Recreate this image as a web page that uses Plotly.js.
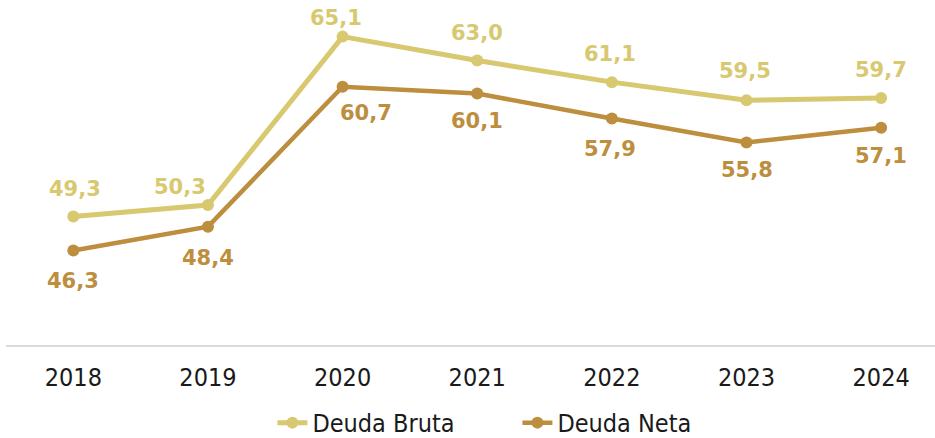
<!DOCTYPE html>
<html>
<head>
<meta charset="utf-8">
<script src="https://cdn.plot.ly/plotly-3.0.1.min.js"></script>
<style>html,body{margin:0;padding:0;background:#fff}#chart{width:935px;height:438px}</style>
</head>
<body>
<div id="chart"></div>
<script>
var years = ["2018","2019","2020","2021","2022","2023","2024"];
var deudaBruta = [49.3, 50.3, 65.1, 63.0, 61.1, 59.5, 59.7];
var deudaNeta = [46.3, 48.4, 60.7, 60.1, 57.9, 55.8, 57.1];
var seriesNames = ["Deuda Bruta", "Deuda Neta"];

// label placement offsets (px) — styling only
var brutaLabelDx = [2, -28, -7, 0, -2, -2, 0];
var brutaLabelDy = [27.5, 18, 18.5, 28, 28, 29, 28];
var netaLabelDx = [0, 0, 23, 0, -2, 0, 0];
var netaLabelDy = [-30, -31, -26, -27.5, -30, -28, -28];

function fmt(v){ return v.toFixed(1).replace('.', ','); }

var colBruta = '#D8C86F';
var colNeta = '#BC8E3E';
var lblFont = 'DejaVu Sans';

var traces = [
  {
    x: years, y: deudaBruta, name: seriesNames[0], type: 'scatter', mode: 'lines+markers',
    line: {color: colBruta, width: 5}, marker: {color: colBruta, size: 12},
    cliponaxis: false, hoverinfo: 'skip'
  },
  {
    x: years, y: deudaNeta, name: seriesNames[1], type: 'scatter', mode: 'lines+markers',
    line: {color: colNeta, width: 4.5}, marker: {color: colNeta, size: 12},
    cliponaxis: false, hoverinfo: 'skip'
  }
];

var annotations = [];
years.forEach(function(yr, i){
  annotations.push({x: i, y: deudaBruta[i], xref: 'x', yref: 'y', text: '<b>' + fmt(deudaBruta[i]) + '</b>',
    showarrow: false, xshift: brutaLabelDx[i], yshift: brutaLabelDy[i],
    xanchor: 'center', yanchor: 'middle',
    font: {family: lblFont, size: 21, color: colBruta}});
  annotations.push({x: i, y: deudaNeta[i], xref: 'x', yref: 'y', text: '<b>' + fmt(deudaNeta[i]) + '</b>',
    showarrow: false, xshift: netaLabelDx[i], yshift: netaLabelDy[i],
    xanchor: 'center', yanchor: 'middle',
    font: {family: lblFont, size: 21, color: colNeta}});
});

var layout = {
  width: 935, height: 438,
  margin: {l: 6, r: 0, t: 15, b: 93, autoexpand: false},
  paper_bgcolor: '#fff', plot_bgcolor: '#fff',
  showlegend: true,
  legend: {orientation: 'h', x: 0.5505, xanchor: 'center', y: -0.236, yanchor: 'middle',
           entrywidth: 200, borderwidth: 0,
           font: {family: 'DejaVu Sans Condensed, DejaVu Sans', size: 25, color: '#1a1a1a'}},
  xaxis: {type: 'category', range: [-0.5, 6.4], showgrid: false, zeroline: false,
          showline: true, linecolor: '#d9d9d9', linewidth: 2, ticks: '', ticklabelstandoff: 9,
          tickfont: {family: 'DejaVu Sans Condensed, DejaVu Sans', size: 25, color: '#1a1a1a'}},
  yaxis: {range: [38, 67], visible: false, showgrid: false, zeroline: false},
  annotations: annotations
};

Plotly.newPlot('chart', traces, layout, {displayModeBar: false, staticPlot: true});
</script>
</body>
</html>
